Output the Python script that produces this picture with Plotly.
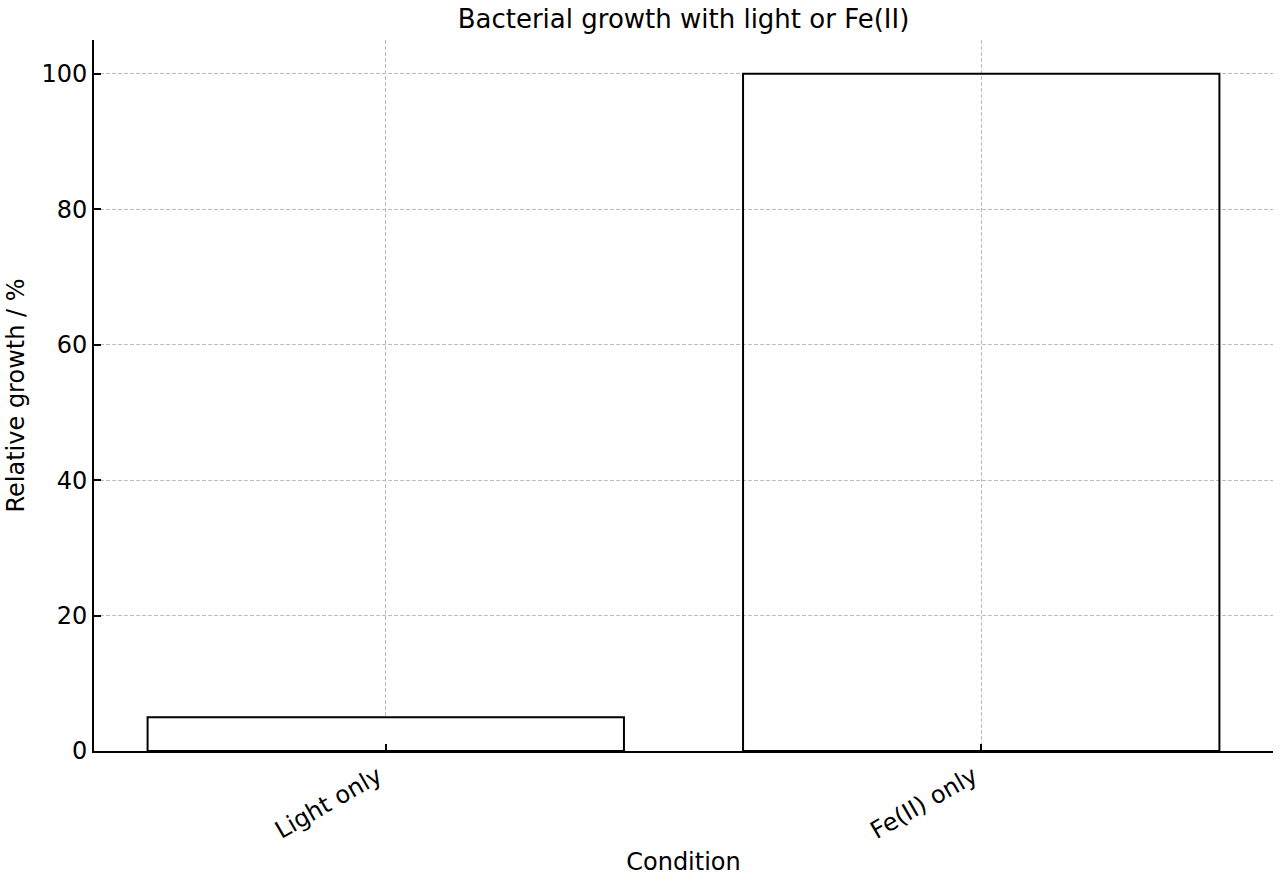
import plotly.graph_objects as go

conditions = ["Light only", "Fe(II) only"]
growth = [5, 100]
fills = ["white", "rgba(0,0,0,0)"]

FONT = "DejaVu Sans"

fig = go.Figure()
fig.add_trace(go.Bar(
    x=conditions,
    y=growth,
    width=0.8,
    marker=dict(color=fills, line=dict(color="black", width=2)),
    showlegend=False,
))

fig.update_layout(
    width=1280,
    height=880,
    paper_bgcolor="white",
    plot_bgcolor="white",
    margin=dict(l=94, r=7, t=40, b=129),
    font=dict(family=FONT, color="black", size=24),
    title=dict(
        text="Bacterial growth with light or Fe(II)",
        x=0.5, xanchor="center", xref="paper",
        y=1 - 19 / 880, yanchor="middle", yref="container",
        font=dict(family=FONT, size=26, color="black"),
    ),
    xaxis=dict(
        type="category",
        range=[-0.49, 1.49],
        showline=True, linecolor="black", linewidth=2,
        ticks="inside", ticklen=7, tickwidth=2, tickcolor="black",
        tickangle=-30,
        ticklabelshift=-8,
        tickfont=dict(family=FONT, size=24),
        showgrid=True, gridcolor="#bdbdbd", gridwidth=1, griddash="4px,2px",
        zeroline=False,
        title=dict(text="Condition", font=dict(family=FONT, size=24), standoff=10),
    ),
    yaxis=dict(
        range=[0, 105],
        tickvals=[0, 20, 40, 60, 80, 100],
        showline=True, linecolor="black", linewidth=2,
        ticks="inside", ticklen=7, tickwidth=2, tickcolor="black",
        tickfont=dict(family=FONT, size=24),
        showgrid=True, gridcolor="#bdbdbd", gridwidth=1, griddash="4px,2px",
        zeroline=False,
        title=dict(text="Relative growth / %", font=dict(family=FONT, size=24), standoff=10),
    ),
)

fig.write_html("out.html")
